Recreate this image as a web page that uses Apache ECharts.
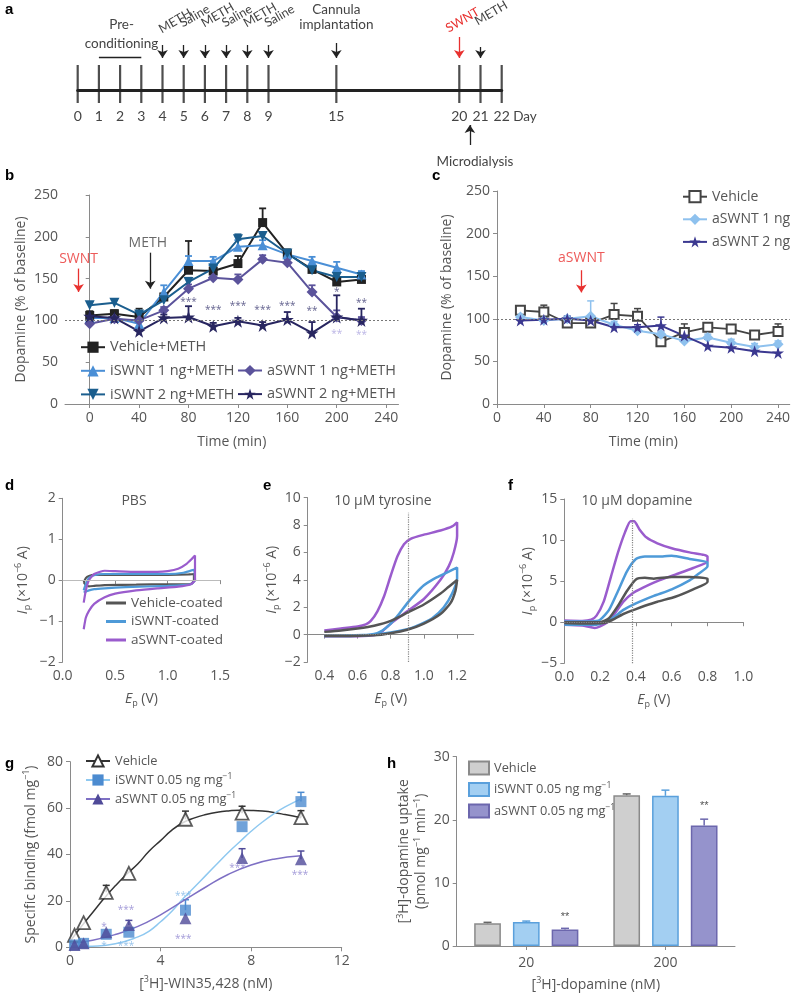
<!DOCTYPE html>
<html><head><meta charset="utf-8">
<script src="https://cdn.jsdelivr.net/npm/echarts@6/dist/echarts.min.js"></script>
<style>html,body{margin:0;padding:0;background:#fff}#c{width:800px;height:995px}</style>
</head><body><div id="c"></div>
<script>
// ---------------- DATA ----------------
// panel a (timeline): axis positions of the day ticks and their labels
const dayPos = [0,1,2,3,4,5,6,7,8,9,12.2,18,19,20];
const dayLabels = ['0','1','2','3','4','5','6','7','8','9','15','20','21','22'];
// annotation texts of panel a: [x, y, text, colour, rotation, size]
const aNotes = [
  [4.6,69,'METH','#444',30,12.5],[5.52,74,'Saline','#444',30,12.5],[6.6,75,'METH','#444',30,12.5],
  [7.52,74,'Saline','#444',30,12.5],[8.6,75,'METH','#444',30,12.5],[9.52,74,'Saline','#444',30,12.5],
  [18.15,70,'SWNT','#e8312f',30,12.5],[19.5,77,'METH','#444',30,12.5],
  [2.07,65,'Pre-','#444',0,13.5],[2.07,46,'conditioning','#444',0,13.5],
  [12.2,80,'Cannula','#444',0,13.5],[12.2,65,'implantation','#444',0,13.5],
  [18.74,-72,'Microdialysis','#444',0,13.5],[21.1,-27,'Day','#444',0,13.5]
];

// panel b
const bTime = [0,20,40,60,80,100,120,140,160,180,200,220];
const bVeh  = [106,108,104,128,160,159,168,217,180,161,146,149];
const bVehE = [5,4,10,4,35,5,9,17,5,5,5,4];
const bI1   = [103,103,96,134,171,171,188,190,179,171,163,155];
const bI1E  = [4,4,4,8,6,5,8,6,4,5,7,4];
const bI2   = [118,121,107,124,146,162,197,201,180,160,152,152];
const bI2E  = [4,4,4,5,5,5,6,4,4,4,5,4];
const bA1   = [96,102,100,112,138,151,149,173,169,134,104,100];
const bA1E  = [3,3,4,4,5,5,6,5,4,8,8,4];
const bA2   = [105,103,87,103,104,93,99,94,101,85,104,100];
const bA2E  = [5,4,4,4,13,4,4,4,9,13,26,14];
const bSigT = [80,100,120,140,160,180,200,220];
const bSigY = [122,112,117,112,117,111,134,121];
const bSigTxt = ['***','***','***','***','***','**','*','**'];
const bSig2T = [200,220];
const bSig2Y = [84,82];
const bTicks = [0,40,80,120,160,200,240];

// panel c
const cTime = [20,40,60,80,100,120,140,160,180,200,220,240];
const cVeh  = [110,108,95,95,105,103,73,84,90,88,81,85];
const cVehE = [3,8,3,3,13,9,3,10,5,5,4,9];
const cA1   = [102,98,100,103,93,86,82,74,78,72,67,70];
const cA1E  = [3,3,3,18,4,3,3,3,4,4,4,4];
const cA2   = [98,99,100,98,90,90,92,80,68,66,62,60];
const cA2E  = [3,3,3,3,3,3,10,3,8,4,4,10];

// panel d (PBS cyclic voltammograms) [E, I]
const dVeh = [[0.2,-0.05],[0.22,0.05],[0.25,0.1],[0.3,0.13],[0.5,0.13],[0.8,0.13],[1.0,0.13],[1.2,0.14],[1.25,0.15],[1.25,0.0],[1.23,-0.08],[1.2,-0.1],[1.0,-0.1],[0.7,-0.11],[0.4,-0.12],[0.3,-0.14],[0.25,-0.15],[0.22,-0.12],[0.2,-0.05]];
const dIsw = [[0.2,-0.25],[0.22,-0.1],[0.25,0.05],[0.3,0.12],[0.4,0.15],[0.8,0.15],[1.0,0.15],[1.15,0.18],[1.25,0.25],[1.26,0.0],[1.22,-0.1],[1.0,-0.14],[0.6,-0.17],[0.4,-0.2],[0.3,-0.22],[0.25,-0.25],[0.2,-0.3]];
const dAsw = [[0.2,-0.55],[0.22,-0.25],[0.25,0.0],[0.3,0.15],[0.4,0.23],[0.5,0.22],[0.7,0.2],[0.9,0.2],[1.0,0.22],[1.1,0.28],[1.18,0.4],[1.23,0.52],[1.26,0.6],[1.26,0.0],[1.22,-0.1],[1.1,-0.16],[0.9,-0.2],[0.7,-0.25],[0.5,-0.33],[0.4,-0.42],[0.3,-0.58],[0.25,-0.75],[0.22,-0.92],[0.2,-1.2]];

// panel e (10 uM tyrosine)
const ePur = [[0.4,0.3],[0.5,0.45],[0.6,0.6],[0.65,0.75],[0.68,1.0],[0.72,1.7],[0.76,2.8],[0.8,4.3],[0.84,5.7],[0.88,6.6],[0.92,7.0],[1.0,7.3],[1.1,7.6],[1.17,7.9],[1.2,8.2],[1.2,7.2],[1.18,6.0],[1.15,5.0],[1.1,4.0],[1.0,2.6],[0.9,1.7],[0.8,0.8],[0.75,0.25],[0.72,0.0],[0.6,-0.12],[0.4,-0.12]];
const eBlue = [[0.4,-0.1],[0.6,-0.08],[0.7,0.05],[0.75,0.3],[0.8,0.8],[0.85,1.5],[0.9,2.3],[0.95,3.0],[1.0,3.6],[1.05,4.0],[1.1,4.3],[1.15,4.6],[1.2,4.9],[1.2,4.1],[1.17,3.0],[1.12,2.0],[1.05,1.2],[0.95,0.6],[0.9,0.4],[0.8,0.15],[0.7,0.0],[0.5,-0.08],[0.4,-0.1]];
const eGray = [[0.4,0.2],[0.5,0.3],[0.6,0.45],[0.7,0.65],[0.8,1.0],[0.9,1.6],[1.0,2.2],[1.1,3.0],[1.15,3.5],[1.2,4.0],[1.19,3.2],[1.16,2.3],[1.1,1.5],[1.0,0.8],[0.9,0.35],[0.8,0.1],[0.7,-0.05],[0.5,-0.1],[0.4,-0.1]];

// panel f (10 uM dopamine)
const fPur = [[0.0,0.2],[0.1,0.15],[0.15,0.3],[0.18,0.8],[0.22,2.5],[0.26,5.5],[0.3,8.5],[0.34,11.0],[0.37,12.3],[0.39,12.3],[0.42,11.3],[0.46,10.3],[0.52,9.6],[0.6,9.0],[0.7,8.5],[0.78,8.2],[0.8,8.0],[0.8,7.4],[0.72,6.6],[0.62,5.8],[0.52,5.0],[0.44,4.2],[0.38,3.5],[0.33,2.5],[0.28,1.0],[0.24,0.0],[0.2,-0.5],[0.17,-0.7],[0.1,-0.4],[0.0,-0.3]];
const fBlue = [[0,0.1],[0.15,0.1],[0.2,0.3],[0.25,1.5],[0.3,3.8],[0.35,6.2],[0.4,7.7],[0.45,8.0],[0.55,8.0],[0.6,8.1],[0.7,7.7],[0.8,7.3],[0.8,6.8],[0.75,5.9],[0.7,5.1],[0.6,4.0],[0.5,3.2],[0.4,2.3],[0.33,1.5],[0.27,0.5],[0.22,0.0],[0.18,-0.3],[0.1,-0.3],[0,-0.3]];
const fGray = [[0,0],[0.2,0],[0.25,0.5],[0.3,2.0],[0.35,3.8],[0.4,5.2],[0.45,5.4],[0.5,5.3],[0.6,5.5],[0.7,5.5],[0.8,5.3],[0.8,4.9],[0.72,4.0],[0.62,3.1],[0.52,2.5],[0.45,2.0],[0.4,1.6],[0.33,1.0],[0.27,0.3],[0.22,-0.1],[0.1,-0.15],[0,-0.1]];

// panel g
const gConc = [0.2,0.6,1.6,2.6,5.1,7.6,10.2];
const gVeh  = [5.2,10.6,23.7,31.9,55.2,57.8,55.9];
const gVehE = [0,0,3,0,3.5,3,3];
const gIsw  = [1,1.7,5.6,6.5,16,52,62.8];
const gIswE = [0,0,0,0,4.5,0,4];
const gAsw  = [1,1.7,6.5,9.6,12.5,38.5,38];
const gAswE = [0,0,0,2,0,4,3.5];
const gFitVeh = [[0,2.5],[0.5,9],[1,15],[1.5,21],[2,26.5],[2.5,31.5],[3,36],[3.5,41.5],[4,46],[4.5,50.5],[5,53.8],[5.5,55.8],[6,57.2],[6.5,58.2],[7,58.8],[7.5,59.1],[8,59],[8.5,58.7],[9,58.1],[9.5,57.2],[10.2,55.8]];
const gFitIsw = [[0,0.3],[1,0.5],[2,1.5],[3,4.5],[3.5,7],[4,11],[4.5,15.5],[5,21],[5.5,26],[6,31],[6.5,36],[7,41],[7.5,45.5],[8,50],[8.5,54],[9,57.5],[9.5,60.5],[10.2,64]];
const gFitAsw = [[0,1.5],[1,3],[2,5.5],[3,9],[4,14],[5,20],[6,26],[7,31.5],[8,35.5],[9,38],[10.2,39.5]];
const gSigPur = [[1.5,8.5,'*'],[2.47,16,'***'],[5.0,3.5,'***'],[7.4,34,'***'],[10.16,31,'***']];
const gSigBlue = [[1.5,0.3,'*'],[2.47,0.3,'***'],[5.0,22,'***']];

// panel h
const hCats = ['20','200'];
const hVeh = [3.6,23.9], hVehE = [0.15,0.2];
const hIsw = [3.8,23.8], hIswE = [0.15,0.9];
const hAsw = [2.6,19.1], hAswE = [0.2,1.0];

// ---------------- STYLE ----------------
const FONT = '"Open Sans", "DejaVu Sans", sans-serif';
const TXT = '#555', AX = '#8a8a8a';
const STAR = 'path://M50,2 L61.8,36.2 L97.6,36.2 L68.6,57.4 L79.4,91.6 L50,70.4 L20.6,91.6 L31.4,57.4 L2.4,36.2 L38.2,36.2 Z';
const minus = v => (v < 0 ? '\u2212' + (-v) : String(v));
const RICH = {
  i:{fontStyle:'italic', fontSize:14, fontFamily:FONT, color:TXT},
  sup:{fontSize:9, lineHeight:9, verticalAlign:'top', fontFamily:FONT, color:TXT},
  sub:{fontSize:9, lineHeight:9, verticalAlign:'bottom', fontFamily:FONT, color:TXT}
};

function pts(xs, ys){ return xs.map((x,i)=>[x, ys[i]]); }
function errData(xs, ys, es){ return xs.map((x,i)=>[x, ys[i], es[i]]).filter(d=>d[2]>0); }
function errBar(color, w, cap){
  return function(params, api){
    const x = api.value(0), y = api.value(1), e = api.value(2);
    const a = api.coord([x,y]), b = api.coord([x,y+e]);
    const st = {stroke:color, lineWidth:w};
    return {type:'group', children:[
      {type:'line', shape:{x1:a[0],y1:a[1],x2:b[0],y2:b[1]}, style:st},
      {type:'line', shape:{x1:b[0]-cap,y1:b[1],x2:b[0]+cap,y2:b[1]}, style:st}
    ]};
  };
}
function lineS(name, idx, data, color, symbol, size, extra){
  return Object.assign({type:'line', name, xAxisIndex:idx, yAxisIndex:idx, data, symbol, symbolSize:size,
    itemStyle:{color}, lineStyle:{color, width:2}, z:3, silent:true}, extra||{});
}
function errS(idx, xs, ys, es, color, w, cap){
  return {type:'custom', xAxisIndex:idx, yAxisIndex:idx, data:errData(xs,ys,es), renderItem:errBar(color,w,cap), z:2, silent:true};
}
function textS(idx, items, extra){
  return Object.assign({type:'scatter', xAxisIndex:idx, yAxisIndex:idx, symbol:'circle', symbolSize:1,
    itemStyle:{color:'rgba(0,0,0,0)'}, z:6, silent:true, clip:false,
    data: items.map(it=>({value:[it[0],it[1]], label:{show:true, position:'inside', formatter:it[2],
      color:it[3]||TXT, fontSize:it[4]||14, fontFamily:FONT}}))}, extra||{});
}
function arrows(list){
  return {silent:true, symbol:['none','arrow'], symbolSize:8, label:{show:false}, animation:false,
    data: list.map(a=>[{coord:[a[0],a[1]], lineStyle:{color:a[3]||'#222', width:1.3, type:'solid'}, symbol:'none'},
                       {coord:[a[4],a[2]], symbol:a[5]?'none':'arrow'}])};
}
function arrow(x, y1, y2, color){ return [x, y1, y2, color, x, false]; }

const axLine = {show:true, lineStyle:{color:AX, width:1}};
const axTick = {show:true, length:4, lineStyle:{color:AX}};
const axLab = {color:TXT, fontSize:14, fontFamily:FONT, margin:7};
const nameStyle = {color:TXT, fontSize:14, fontFamily:FONT, lineHeight:18, rich:RICH};
function vAxis(idx, o){
  return Object.assign({gridIndex:idx, type:'value', axisLine:axLine, axisTick:axTick,
    axisLabel:Object.assign({}, axLab), splitLine:{show:false}, nameLocation:'middle', nameTextStyle:nameStyle}, o);
}
const IpName = '{i|I}{sub|p} (\u00d710{sup|\u22126} A)';
const EpName = '{i|E}{sub|p} (V)';
const legText = {fontSize:12.8, color:TXT, fontFamily:FONT, lineHeight:16, rich:{sup:{fontSize:8.5, lineHeight:9, verticalAlign:'top', color:TXT, fontFamily:FONT}}};
const legFmt = name => name.trim().replace('mg-1', 'mg{sup|\u22121}');

// ---------------- OPTION ----------------
const option = {
  animation:false,
  grid:[
    {left:77.7, top:0, width:424, height:170},
    {left:65, top:195, width:333.5, height:209},
    {left:497, top:191, width:292.75, height:213},
    {left:62.7, top:498.3, width:157.5, height:163.7},
    {left:307.7, top:497.7, width:166, height:164.3},
    {left:564.3, top:499, width:179, height:164.3},
    {left:70, top:761.7, width:271.7, height:185.6},
    {left:456.7, top:756.7, width:278.3, height:190}
  ],
  xAxis:[
    {gridIndex:0, type:'value', min:0, max:20, offset:-80, axisLine:{show:true, onZero:false, lineStyle:{color:'#222', width:3}},
     axisTick:{show:false}, splitLine:{show:false},
     axisLabel:{customValues:dayPos, color:'#444', fontSize:14, fontFamily:'Lato, "Open Sans", sans-serif', margin:19,
       formatter:v=>{const i=dayPos.findIndex(p=>Math.abs(p-v)<1e-6); return i>=0?dayLabels[i]:'';}}},
    vAxis(1,{min:-20, max:250, name:'Time (min)', nameGap:29,
      axisTick:Object.assign({customValues:bTicks}, axTick), axisLabel:Object.assign({customValues:bTicks}, axLab)}),
    vAxis(2,{min:0, max:250, name:'Time (min)', nameGap:29,
      axisTick:Object.assign({customValues:bTicks}, axTick), axisLabel:Object.assign({customValues:bTicks}, axLab)}),
    vAxis(3,{min:0, max:1.5, interval:0.5, name:EpName, nameGap:28,
      axisLabel:Object.assign({formatter:v=>v.toFixed(1)}, axLab)}),
    vAxis(4,{min:0.3, max:1.3, name:EpName, nameGap:28,
      axisTick:Object.assign({customValues:[0.4,0.6,0.8,1.0,1.2]}, axTick),
      axisLabel:Object.assign({customValues:[0.4,0.6,0.8,1.0,1.2], formatter:v=>v.toFixed(1)}, axLab)}),
    vAxis(5,{min:0, max:1, interval:0.2, name:EpName, nameGap:28,
      axisLabel:Object.assign({formatter:v=>v.toFixed(1)}, axLab)}),
    vAxis(6,{min:0, max:12, interval:4, name:'[{sup|3}H]-WIN35,428 (nM)', nameGap:28}),
    {gridIndex:7, type:'category', data:hCats, axisLine:axLine, axisTick:Object.assign({alignWithLabel:true}, axTick),
     axisLabel:Object.assign({}, axLab, {margin:10}), name:'[{sup|3}H]-dopamine (nM)', nameLocation:'middle', nameGap:30, nameTextStyle:nameStyle}
  ],
  yAxis:[
    {gridIndex:0, type:'value', min:-80, max:90, show:false},
    vAxis(1,{min:0, max:250, interval:50, name:'Dopamine (% of baseline)', nameGap:31}),
    vAxis(2,{min:0, max:250, interval:50, name:'Dopamine (% of baseline)', nameGap:41}),
    vAxis(3,{min:-2, max:2, interval:1, name:IpName, nameGap:31, axisLabel:Object.assign({formatter:minus}, axLab)}),
    vAxis(4,{min:-2, max:10, interval:2, name:IpName, nameGap:22, axisLabel:Object.assign({formatter:minus}, axLab)}),
    vAxis(5,{min:-5, max:15, interval:5, name:IpName, nameGap:18, axisLabel:Object.assign({formatter:minus}, axLab)}),
    vAxis(6,{min:0, max:80, interval:20, name:'Specific binding (fmol mg{sup|\u22121})', nameGap:30}),
    vAxis(7,{min:0, max:30, interval:10, name:'[{sup|3}H]-dopamine uptake\n(pmol mg{sup|\u22121} min{sup|\u22121})', nameGap:26,
      nameTextStyle:Object.assign({}, nameStyle, {lineHeight:17})})
  ],
  legend:[
    {data:['Vehicle+METH','iSWNT 1 ng+METH','iSWNT 2 ng+METH'], left:80, top:339.7, orient:'vertical',
     itemWidth:24, itemHeight:14, itemGap:8.6, padding:0, textStyle:{fontSize:14.5, color:TXT, fontFamily:FONT}},
    {data:['aSWNT 1 ng+METH','aSWNT 2 ng+METH'], left:237, top:363, orient:'vertical',
     itemWidth:24, itemHeight:14, itemGap:8.6, padding:0, textStyle:{fontSize:14.5, color:TXT, fontFamily:FONT}},
    {data:['Vehicle','aSWNT 1 ng','aSWNT 2 ng'], left:682, top:189.7, orient:'vertical',
     itemWidth:24, itemHeight:14, itemGap:8.6, padding:0, textStyle:{fontSize:14, color:TXT, fontFamily:FONT}},
    {data:[{name:'Vehicle-coated',icon:'rect'},{name:'iSWNT-coated',icon:'rect'},{name:'aSWNT-coated',icon:'rect'}],
     left:106, top:596, orient:'vertical', itemWidth:20, itemHeight:3, itemGap:4.5, padding:0,
     textStyle:{fontSize:13.5, lineHeight:14, color:TXT, fontFamily:FONT}},
    {data:['Vehicle ','iSWNT 0.05 ng mg-1','aSWNT 0.05 ng mg-1'], left:85, top:753, orient:'vertical', formatter:legFmt,
     itemWidth:24, itemHeight:14, itemGap:3, padding:0, textStyle:legText},
    {data:['Vehicle  ','iSWNT 0.05 ng mg-1 ','aSWNT 0.05 ng mg-1 '], left:468, top:760, orient:'vertical', formatter:legFmt,
     icon:'rect', itemWidth:20, itemHeight:13, itemGap:5.5, padding:0, textStyle:legText}
  ],
  graphic:[
    ...[['a',5,10],['b',5,176],['c',432,176],['d',5,486],['e',263,486],['f',508,486],['g',5,764],['h',387,764]].map(p=>({
      type:'text', x:p[1], y:p[2], style:{text:p[0], fill:'#000', font:'bold 15px "Liberation Sans", Arial, sans-serif', align:'left', verticalAlign:'middle'}})),
    ...[['PBS',134,501],['10 \u03bcM tyrosine',383,501],['10 \u03bcM dopamine',637,501]].map(p=>({
      type:'text', x:p[1], y:p[2], style:{text:p[0], fill:TXT, font:'14px "Open Sans", sans-serif', align:'center', verticalAlign:'middle'}}))
  ],
  series:[]
};

const S = option.series;
// ---- panel a
S.push({type:'scatter', xAxisIndex:0, yAxisIndex:0, data:dayPos.map(p=>[p,6]), symbol:'rect', symbolSize:[2.2,38],
  itemStyle:{color:'#222'}, silent:true, z:3, clip:false,
  markLine:arrows([
    arrow(dayPos[4],45,32), arrow(dayPos[5],45,32), arrow(dayPos[6],45,32), arrow(dayPos[7],45,32),
    arrow(dayPos[8],45,32), arrow(dayPos[9],45,32), arrow(dayPos[10],47,32),
    arrow(dayPos[11],53,32,'#e8312f'), arrow(dayPos[12],43,32),
    arrow(18.5,-55,-35),
    [dayPos[1],33,33,'#222',dayPos[3],true]
  ])});

// ---- panel b
const kVehB='#222', kI1='#4a8fd6', kI2='#1b5e8e', kA1='#5b539b', kA2='#282660';
S.push(errS(1,bTime,bVeh,bVehE,kVehB,1.8,3.5), errS(1,bTime,bI1,bI1E,kI1,1.8,3.5), errS(1,bTime,bI2,bI2E,kI2,1.8,3.5),
       errS(1,bTime,bA1,bA1E,kA1,1.8,3.5), errS(1,bTime,bA2,bA2E,kA2,1.8,3.5));
S.push(lineS('Vehicle+METH',1,pts(bTime,bVeh),kVehB,'rect',9,{markLine:{silent:true,symbol:['none','none'],label:{show:false},
  lineStyle:{color:'#777',type:[2,2],width:1}, data:[{yAxis:100}]}}));
S.push(lineS('iSWNT 1 ng+METH',1,pts(bTime,bI1),kI1,'triangle',10));
S.push(lineS('iSWNT 2 ng+METH',1,pts(bTime,bI2),kI2,'triangle',10,{symbolRotate:180}));
S.push(lineS('aSWNT 1 ng+METH',1,pts(bTime,bA1),kA1,'diamond',11));
S.push(lineS('aSWNT 2 ng+METH',1,pts(bTime,bA2),kA2,STAR,13));
S.push(textS(1, bSigT.map((t,i)=>[t,bSigY[i],bSigTxt[i],'#3a3870',10]).concat(bSig2T.map((t,i)=>[t,bSig2Y[i],'**','#aaa3de',10]))));
S.push(textS(1,[[-9,174,'SWNT','#e8312f',14],[47,193,'METH','#444',14]],{markLine:arrows([arrow(-9,162,134,'#e8312f'),arrow(49,181,138)])}));

// ---- panel c
const kVehC='#444', kA1C='#8ec1ee', kA2C='#3b3890';
S.push(errS(2,cTime,cVeh,cVehE,kVehC,1.5,3.5), errS(2,cTime,cA1,cA1E,kA1C,1.5,3.5), errS(2,cTime,cA2,cA2E,kA2C,1.5,3.5));
S.push(lineS('Vehicle',2,pts(cTime,cVeh),kVehC,'emptyRect',9,{lineStyle:{color:kVehC,width:1.8},itemStyle:{color:kVehC,borderWidth:1.5},
  markLine:{silent:true,symbol:['none','none'],label:{show:false},lineStyle:{color:'#777',type:[2,2],width:1},data:[{yAxis:100}]}}));
S.push(lineS('aSWNT 1 ng',2,pts(cTime,cA1),kA1C,'diamond',11));
S.push(lineS('aSWNT 2 ng',2,pts(cTime,cA2),kA2C,STAR,12));
S.push(textS(2,[[72,171,'aSWNT','#e8312f',14]],{markLine:arrows([arrow(72,157,131,'#e8312f')])}));

// ---- panel d
const gryCV='#555', bluCV='#4e9ad8', purCV='#9a5ccd';
S.push(lineS('Vehicle-coated',3,dVeh,gryCV,'none',0,{smooth:0.15,lineStyle:{color:gryCV,width:2.2},
  markLine:{silent:true,symbol:['none','none'],label:{show:false},lineStyle:{color:'#bbb',type:'solid',width:1},data:[{yAxis:0}]}}));
S.push(lineS('iSWNT-coated',3,dIsw,bluCV,'none',0,{smooth:0.15,lineStyle:{color:bluCV,width:2.2}}));
S.push(lineS('aSWNT-coated',3,dAsw,purCV,'none',0,{smooth:0.15,lineStyle:{color:purCV,width:2.2}}));

// ---- panel e
const dotML = (vx, y1, y2) => ({silent:true,symbol:['none','none'],label:{show:false},lineStyle:{color:'#888',type:'dotted',width:1.2},
  data:[{yAxis:0},[{coord:[vx,y1]},{coord:[vx,y2]}]]});
S.push(lineS('e-pur',4,ePur,purCV,'none',0,{smooth:0.2,lineStyle:{color:purCV,width:2.5},markLine:dotML(0.905,-2,8.9)}));
S.push(lineS('e-blue',4,eBlue,bluCV,'none',0,{smooth:0.2,lineStyle:{color:bluCV,width:2.5}}));
S.push(lineS('e-gray',4,eGray,gryCV,'none',0,{smooth:0.2,lineStyle:{color:gryCV,width:2.5}}));

// ---- panel f
S.push(lineS('f-pur',5,fPur,purCV,'none',0,{smooth:0.2,lineStyle:{color:purCV,width:2.5},markLine:dotML(0.38,-5,12.6)}));
S.push(lineS('f-blue',5,fBlue,bluCV,'none',0,{smooth:0.2,lineStyle:{color:bluCV,width:2.5}}));
S.push(lineS('f-gray',5,fGray,gryCV,'none',0,{smooth:0.2,lineStyle:{color:gryCV,width:2.5}}));

// ---- panel g
const gV='#333', gIp='#4c8bd0', gIf='#8ec8f0', gAp='#4f4a98', gAf='#7e70c4';
S.push(lineS('Vehicle ',6,gFitVeh,gV,'emptyTriangle',12,{showSymbol:false,smooth:true,lineStyle:{color:gV,width:1.5},itemStyle:{color:gV,borderWidth:1.5}}));
S.push(lineS('iSWNT 0.05 ng mg-1',6,gFitIsw,gIf,'rect',11,{showSymbol:false,smooth:true,lineStyle:{color:gIf,width:1.5},itemStyle:{color:gIp}}));
S.push(lineS('aSWNT 0.05 ng mg-1',6,gFitAsw,gAf,'triangle',12,{showSymbol:false,smooth:true,lineStyle:{color:gAf,width:1.5},itemStyle:{color:gAp}}));
S.push(errS(6,gConc,gVeh,gVehE,gV,1.5,3.5), errS(6,gConc,gIsw,gIswE,gIp,1.5,3.5), errS(6,gConc,gAsw,gAswE,gAp,1.5,3.5));
S.push({type:'scatter',name:'gVehPts',xAxisIndex:6,yAxisIndex:6,data:pts(gConc,gVeh),symbol:'triangle',symbolSize:13,
  itemStyle:{color:'#fff',borderColor:gV,borderWidth:1.8},z:4,silent:true});
S.push({type:'scatter',name:'gIswPts',xAxisIndex:6,yAxisIndex:6,data:pts(gConc,gIsw),symbol:'rect',symbolSize:11,itemStyle:{color:gIp},z:4,silent:true});
S.push({type:'scatter',name:'gAswPts',xAxisIndex:6,yAxisIndex:6,data:pts(gConc,gAsw),symbol:'triangle',symbolSize:12,itemStyle:{color:gAp},z:5,silent:true});
S.push(textS(6, gSigPur.map(s=>[s[0],s[1],s[2],'#8d83cf',10]).concat(gSigBlue.map(s=>[s[0],s[1],s[2],'#7fb5e6',10]))));

// ---- panel h
const hCol = [['#cfcfcf','#8a8a8a'],['#a3cff2','#5aa0dc'],['#9593cc','#6c67ad']];
function hBar(name, vals, col, stars){
  return {type:'bar', name, xAxisIndex:7, yAxisIndex:7, barWidth:'19.2%', barGap:'45%', silent:true,
    itemStyle:{color:col[0], borderColor:col[1], borderWidth:1.5},
    data: vals.map((v,i)=> stars ? {value:v, label:{show:true, position:'top', formatter:'**', distance:stars[i], color:'#555', fontSize:11}} : v)};
}
function hErr(k, vals, errs, color){
  return {type:'custom', xAxisIndex:7, yAxisIndex:7, z:3, silent:true, data:vals.map((v,i)=>[i,v,errs[i]]),
    renderItem:function(params, api){
      const band = api.size([1,0])[0];
      const dx = k * band * 0.192 * 1.45;
      const a = api.coord([api.value(0), api.value(1)]), b = api.coord([api.value(0), api.value(1)+api.value(2)]);
      const st = {stroke:color, lineWidth:1.5};
      return {type:'group', children:[
        {type:'line', shape:{x1:a[0]+dx,y1:a[1],x2:b[0]+dx,y2:b[1]}, style:st},
        {type:'line', shape:{x1:b[0]+dx-4,y1:b[1],x2:b[0]+dx+4,y2:b[1]}, style:st}]};
    }};
}
S.push(hBar('Vehicle  ', hVeh, hCol[0]));
S.push(hBar('iSWNT 0.05 ng mg-1 ', hIsw, hCol[1]));
S.push(hBar('aSWNT 0.05 ng mg-1 ', hAsw, hCol[2], [7,14]));
S.push(hErr(-1,hVeh,hVehE,'#666'), hErr(0,hIsw,hIswE,hCol[1][1]), hErr(1,hAsw,hAswE,hCol[2][1]));

const chart = echarts.init(document.getElementById('c'), null, {renderer:'canvas'});
chart.setOption(option);
// panel a annotation texts, positioned through the panel's own axes
const aText = aNotes.map(n => {
  const p = chart.convertToPixel({gridIndex:0}, [n[0], n[1]]);
  return {type:'text', x:p[0], y:p[1], rotation:n[4]*Math.PI/180,
    style:{text:n[2], fill:n[3], font:n[5]+'px Lato, "Open Sans", sans-serif', align:'center', verticalAlign:'middle'}};
});
chart.setOption({graphic: option.graphic.concat(aText)});
</script></body></html>
